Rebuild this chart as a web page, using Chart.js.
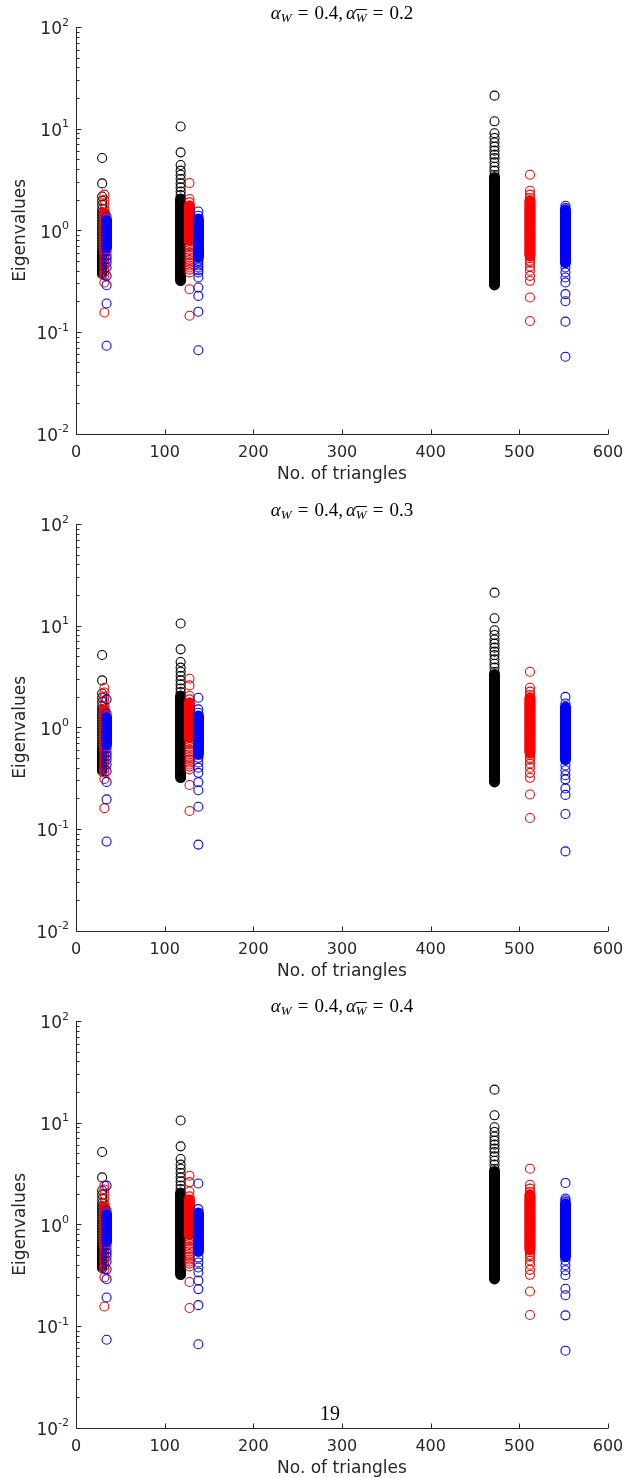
<!DOCTYPE html>
<html lang="en">
<head>
<meta charset="UTF-8">
<title>Eigenvalues vs. number of triangles</title>
<script src="https://cdn.jsdelivr.net/npm/chart.js"></script>
<style>
  body { margin: 0; background: #fff; overflow: hidden; }
  .page { position: relative; width: 626px; height: 1478px; background: #fff; }
  canvas { position: absolute; left: 0; }
  .title {
    position: absolute; left: 76px; width: 532px; text-align: center;
    font-family: 'Liberation Serif', serif; font-size: 19px; line-height: 20px; color: #000;
  }
  .title sub { font-size: 13px; vertical-align: -3px; line-height: 0; }
  .title .eq { margin: 0 6px; }
  .title .sp { margin-left: 3px; }
  .bar { text-decoration: overline; }
  .pagenum {
    position: absolute; left: 300px; width: 60px; top: 1402px; text-align: center;
    font-family: 'Liberation Serif', serif; font-size: 20px; line-height: 22px; color: #000; z-index: 2;
  }
</style>
</head>
<body>
<div class="page" id="page">
  <canvas id="c0" width="626" height="484" style="top:0px"></canvas>
  <canvas id="c1" width="626" height="484" style="top:497px"></canvas>
  <canvas id="c2" width="626" height="484" style="top:994px"></canvas>
  <div class="pagenum">19</div>
</div>

<script>
  // ---- data ----
  const alphaW = 0.4;
  const alphaWbar = [0.2, 0.3, 0.4];

  const xBlack = [29.5, 118, 472];
  const xRed = [32, 128, 512];
  const xBlue = [34.5, 138, 552];

  const xTicks = [0, 100, 200, 300, 400, 500, 600];
  const yExponents = [-2, -1, 0, 1, 2];

  // "band" = where the circles pile up into a solid bar, "rings" = circles that can be told apart
  // black markers look the same in all three panels
  const blackRingsA = [5.14, 2.89, 2.15, 1.95, 1.78, 1.62, 1.5, 1.41, 1.32, 1.24, 1.16, 1.09, 1.02, 0.96,
    0.9, 0.84, 0.79, 0.74, 0.7, 0.66, 0.62, 0.6, 0.58, 0.56, 0.55, 0.53, 0.52, 0.5, 0.49, 0.48, 0.47,
    0.46, 0.45, 0.44, 0.43, 0.42, 0.41, 0.4, 0.39, 0.38, 0.37];
  const blackRingsB = [10.5, 5.84, 4.39, 3.86, 3.52, 3.19, 2.89, 2.64, 2.41, 2.22];
  const blackBandB = [2.03, 1.97, 1.91, 1.86, 1.8, 1.75, 1.7, 1.65, 1.6, 1.55, 1.51, 1.46, 1.42, 1.38,
    1.34, 1.3, 1.26, 1.22, 1.19, 1.15, 1.12, 1.09, 1.05, 1.02, 0.99, 0.96, 0.94, 0.91, 0.88, 0.86,
    0.83, 0.81, 0.78, 0.76, 0.74, 0.72, 0.7, 0.68, 0.66, 0.64, 0.62, 0.6, 0.58, 0.565, 0.55, 0.53,
    0.515, 0.5, 0.485, 0.47, 0.46, 0.445, 0.43, 0.42, 0.405, 0.395, 0.38, 0.37, 0.36, 0.35, 0.34,
    0.33, 0.32];
  const blackRingsC = [21.1, 11.8, 9.0, 8.1, 7.3, 6.65, 6.07, 5.55, 5.14, 4.65, 4.22, 3.86, 3.5];
  const blackBandC = [3.3, 3.2, 3.11, 3.02, 2.93, 2.85, 2.77, 2.69, 2.61, 2.53, 2.46, 2.39, 2.32, 2.25,
    2.19, 2.12, 2.06, 2.0, 1.94, 1.89, 1.83, 1.78, 1.73, 1.68, 1.63, 1.58, 1.54, 1.49, 1.45, 1.41,
    1.37, 1.33, 1.29, 1.25, 1.21, 1.18, 1.15, 1.11, 1.08, 1.05, 1.02, 0.99, 0.96, 0.93, 0.9, 0.88,
    0.85, 0.83, 0.8, 0.78, 0.76, 0.73, 0.71, 0.69, 0.67, 0.65, 0.63, 0.61, 0.6, 0.58, 0.56, 0.55,
    0.53, 0.51, 0.5, 0.485, 0.47, 0.455, 0.44, 0.43, 0.42, 0.405, 0.39, 0.38, 0.37, 0.36, 0.35,
    0.34, 0.33, 0.32, 0.31, 0.3, 0.29];

  // red markers: common band + per-panel rings
  const redBandA = [1.48, 1.44, 1.4, 1.36, 1.32, 1.28, 1.24, 1.2, 1.17, 1.13, 1.1, 1.07, 1.04, 1.01,
    0.98, 0.95, 0.92, 0.9, 0.87, 0.85, 0.82, 0.8, 0.77, 0.75, 0.73, 0.71, 0.69, 0.67, 0.65, 0.63];
  const redRingsA = [
    [2.24, 1.98, 1.81, 1.62, 0.6, 0.56, 0.52, 0.48, 0.45, 0.42, 0.39, 0.36, 0.306, 0.155],
    [2.45, 2.2, 1.98, 1.81, 1.62, 0.6, 0.56, 0.52, 0.48, 0.45, 0.42, 0.39, 0.36, 0.31, 0.16],
    [2.4, 2.2, 1.98, 1.81, 1.6, 0.6, 0.56, 0.52, 0.48, 0.45, 0.42, 0.39, 0.36, 0.3, 0.155]
  ];
  const redBandB = [1.74, 1.69, 1.64, 1.59, 1.55, 1.5, 1.46, 1.41, 1.37, 1.33, 1.29, 1.26, 1.22, 1.18,
    1.15, 1.12, 1.08, 1.05, 1.02, 0.99, 0.96, 0.94, 0.91, 0.88, 0.86, 0.83, 0.81, 0.79];
  const redRingsB = [
    [2.92, 2.03, 1.88, 0.75, 0.71, 0.68, 0.64, 0.6, 0.57, 0.54, 0.51, 0.48, 0.45, 0.43, 0.41, 0.385, 0.263, 0.144],
    [3.0, 2.58, 2.03, 1.88, 0.75, 0.71, 0.68, 0.64, 0.6, 0.57, 0.54, 0.51, 0.48, 0.45, 0.43, 0.41, 0.385, 0.27, 0.15],
    [3.0, 2.6, 2.1, 1.88, 0.75, 0.71, 0.68, 0.64, 0.6, 0.57, 0.54, 0.51, 0.48, 0.45, 0.43, 0.41, 0.385, 0.27, 0.15]
  ];
  const redBandC = [1.95, 1.89, 1.84, 1.78, 1.73, 1.68, 1.63, 1.58, 1.54, 1.49, 1.45, 1.41, 1.37, 1.33,
    1.29, 1.25, 1.21, 1.18, 1.15, 1.11, 1.08, 1.05, 1.02, 0.99, 0.96, 0.93, 0.9, 0.88, 0.85, 0.83,
    0.8, 0.78, 0.76, 0.73, 0.71, 0.69, 0.67, 0.65, 0.63, 0.61, 0.6, 0.58, 0.56];
  const redRingsC = [3.52, 2.45, 2.24, 2.08, 0.53, 0.5, 0.48, 0.44, 0.4, 0.356, 0.318, 0.218, 0.128];

  // blue markers
  const blueBandA = [1.24, 1.21, 1.17, 1.14, 1.1, 1.07, 1.04, 1.01, 0.98, 0.95, 0.92, 0.9, 0.87, 0.85,
    0.82, 0.8, 0.77, 0.75, 0.73, 0.71, 0.69, 0.68];
  const blueRingsA = [
    [1.36, 0.62, 0.56, 0.52, 0.48, 0.43, 0.356, 0.288, 0.19, 0.073],
    [1.88, 1.36, 0.62, 0.56, 0.52, 0.48, 0.43, 0.37, 0.29, 0.195, 0.075],
    [2.4, 1.36, 0.62, 0.56, 0.52, 0.48, 0.43, 0.36, 0.288, 0.19, 0.073]
  ];
  const blueBandB = [1.29, 1.25, 1.21, 1.18, 1.14, 1.11, 1.08, 1.05, 1.02, 0.99, 0.96, 0.93, 0.9, 0.88,
    0.85, 0.83, 0.8, 0.78, 0.76, 0.73, 0.71, 0.69, 0.67, 0.65, 0.63, 0.61, 0.6, 0.58, 0.56, 0.54];
  const blueRingsB = [
    [1.53, 1.39, 0.5, 0.48, 0.45, 0.43, 0.405, 0.385, 0.343, 0.273, 0.226, 0.158, 0.066],
    [1.95, 1.5, 1.39, 0.5, 0.45, 0.4, 0.356, 0.288, 0.24, 0.165, 0.07],
    [2.52, 1.41, 0.47, 0.42, 0.375, 0.335, 0.28, 0.23, 0.16, 0.066]
  ];
  const blueBandC = [1.58, 1.53, 1.49, 1.44, 1.4, 1.36, 1.32, 1.28, 1.24, 1.21, 1.17, 1.14, 1.1, 1.07,
    1.04, 1.01, 0.98, 0.95, 0.92, 0.9, 0.87, 0.85, 0.82, 0.8, 0.77, 0.75, 0.73, 0.71, 0.69, 0.67,
    0.65, 0.63, 0.61, 0.59, 0.575, 0.56, 0.54, 0.525, 0.51, 0.495, 0.48];
  const blueRingsC = [
    [1.74, 1.65, 0.43, 0.385, 0.343, 0.306, 0.235, 0.2, 0.126, 0.057],
    [1.99, 1.71, 0.42, 0.377, 0.337, 0.307, 0.25, 0.216, 0.14, 0.06],
    [2.55, 1.79, 1.72, 1.65, 0.44, 0.395, 0.353, 0.315, 0.232, 0.2, 0.127, 0.057]
  ];

  const axisColor = '#262626';
  const titleTops = [3, 500, 996];

  function pts(x, ...groups) {
    return groups.flat().map(v => ({ x: x, y: v }));
  }

  // MATLAB style axes: left + bottom lines, inward ticks, 10^n labels
  const matlabAxes = {
    id: 'matlabAxes',
    afterDraw(chart) {
      const { ctx, chartArea: a, scales: { x, y } } = chart;
      ctx.save();
      ctx.strokeStyle = axisColor;
      ctx.lineWidth = 1;
      ctx.beginPath();
      const L = Math.round(a.left) + 0.5, B = Math.round(a.bottom) + 0.5;
      ctx.moveTo(L, Math.round(a.top));
      ctx.lineTo(L, B);
      ctx.lineTo(Math.round(a.right), B);
      xTicks.forEach(v => {
        const px = Math.round(x.getPixelForValue(v)) + 0.5;
        ctx.moveTo(px, B);
        ctx.lineTo(px, B - 5);
      });
      yExponents.forEach(e => {
        const py = Math.round(y.getPixelForValue(Math.pow(10, e))) + 0.5;
        ctx.moveTo(L, py);
        ctx.lineTo(L + 5, py);
        if (e < 2) {
          for (let m = 2; m <= 9; m++) {
            const pm = Math.round(y.getPixelForValue(m * Math.pow(10, e))) + 0.5;
            ctx.moveTo(L, pm);
            ctx.lineTo(L + 3, pm);
          }
        }
      });
      ctx.stroke();

      ctx.fillStyle = axisColor;
      ctx.textAlign = 'right';
      ctx.textBaseline = 'middle';
      yExponents.forEach(e => {
        const py = y.getPixelForValue(Math.pow(10, e));
        const exp = String(e);
        ctx.font = '11px "DejaVu Sans"';
        const w = ctx.measureText(exp).width;
        ctx.fillText(exp, 69, py - 4);
        ctx.font = '17px "DejaVu Sans"';
        ctx.fillText('10', 69 - w, py + 3);
      });
      ctx.restore();
    }
  };

  function makePanel(p) {
    const ctx = document.getElementById('c' + p);
    const marker = (color, width) => ({
      pointRadius: 4.5,
      pointBorderWidth: width,
      pointBorderColor: color,
      pointBackgroundColor: 'rgba(0,0,0,0)',
      showLine: false
    });

    new Chart(ctx, {
      type: 'scatter',
      data: {
        datasets: [
          { label: 'black', order: 6, ...marker('#000000', 1.1),
            data: [...pts(xBlack[0], blackRingsA), ...pts(xBlack[1], blackRingsB), ...pts(xBlack[2], blackRingsC)] },
          { label: 'black band', order: 5, ...marker('#000000', 2),
            data: [...pts(xBlack[1], blackBandB), ...pts(xBlack[2], blackBandC)] },
          { label: 'red', order: 4, ...marker('#ff0000', 1.1),
            data: [...pts(xRed[0], redRingsA[p]), ...pts(xRed[1], redRingsB[p]), ...pts(xRed[2], redRingsC)] },
          { label: 'red band', order: 3, ...marker('#ff0000', 2),
            data: [...pts(xRed[0], redBandA), ...pts(xRed[1], redBandB), ...pts(xRed[2], redBandC)] },
          { label: 'blue', order: 2, ...marker('#0000ff', 1.1),
            data: [...pts(xBlue[0], blueRingsA[p]), ...pts(xBlue[1], blueRingsB[p]), ...pts(xBlue[2], blueRingsC[p])] },
          { label: 'blue band', order: 1, ...marker('#0000ff', 2),
            data: [...pts(xBlue[0], blueBandA), ...pts(xBlue[1], blueBandB), ...pts(xBlue[2], blueBandC)] }
        ]
      },
      options: {
        responsive: false,
        animation: false,
        events: [],
        layout: { padding: { top: 27, right: 18, bottom: 0, left: 0 } },
        plugins: { legend: { display: false }, tooltip: { enabled: false } },
        scales: {
          x: {
            type: 'linear', min: 0, max: 600,
            grid: { display: false, drawTicks: false },
            border: { display: false },
            ticks: { stepSize: 100, padding: 10, color: axisColor, font: { family: 'DejaVu Sans', size: 16 } },
            title: { display: true, text: 'No. of triangles', color: axisColor,
              font: { family: 'DejaVu Sans', size: 17, lineHeight: 1 }, padding: { top: 0, bottom: 1 } },
            afterFit: s => { s.height = 50.5; s.paddingLeft = 0; s.paddingRight = 0; }
          },
          y: {
            type: 'logarithmic', min: 0.01, max: 100,
            grid: { display: false, drawTicks: false },
            border: { display: false },
            ticks: { display: false },
            title: { display: true, text: 'Eigenvalues', color: axisColor,
              font: { family: 'DejaVu Sans', size: 17 }, padding: { top: 10, bottom: 0 } },
            afterFit: s => { s.width = 76; }
          }
        }
      },
      plugins: [matlabAxes]
    });

    const t = document.createElement('div');
    t.className = 'title';
    t.style.top = titleTops[p] + 'px';
    t.innerHTML = '<i>α</i><sub><i>W</i></sub><span class="eq">=</span>' + alphaW.toFixed(1) +
      ',<span class="sp"></span><i>α</i><sub><i class="bar">W</i></sub><span class="eq">=</span>' +
      alphaWbar[p].toFixed(1);
    document.getElementById('page').appendChild(t);
  }

  [0, 1, 2].forEach(makePanel);
</script>
</body>
</html>
